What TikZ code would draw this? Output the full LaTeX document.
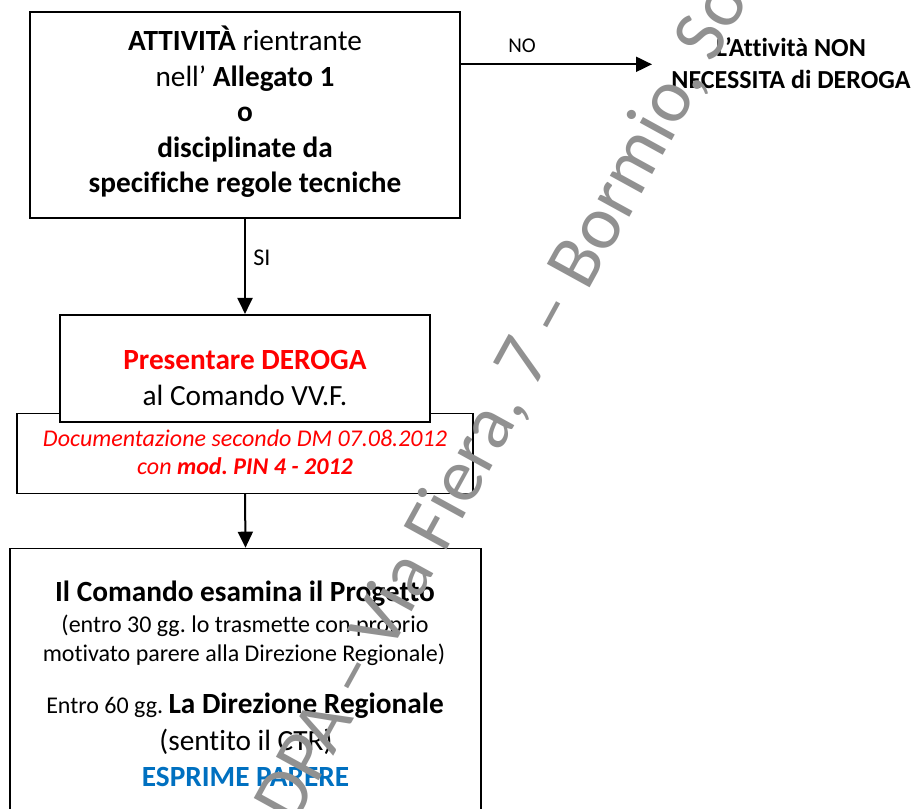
\documentclass[tikz,border=0pt]{standalone}
\usepackage{fontspec}
\setmainfont[Ligatures=NoCommon]{Carlito}
\usetikzlibrary{arrows.meta}
\definecolor{wordred}{RGB}{255,0,0}
\definecolor{wordblue}{RGB}{0,112,192}
\definecolor{wmgray}{RGB}{145,145,145}
\newcommand\fbig{\fontsize{29.3}{35}\selectfont}
\newcommand\fmid{\fontsize{24}{29}\selectfont}
\newcommand\fout{\fontsize{26}{32}\selectfont}
\newcommand\flab{\fontsize{21}{25}\selectfont}
\newcommand\fwm{\fontsize{76}{92}\selectfont}
\frenchspacing
\begin{document}
\begin{tikzpicture}[x=1pt,y=-1pt,
  box/.style={draw=black, fill=white, inner sep=0pt},
  thickbox/.style={box, line width=2pt},
  thinbox/.style={box, line width=1.3pt},
  txt/.style={anchor=base, inner sep=0pt, outer sep=0pt},
  wmstyle/.style={txt, anchor=base west, rotate=61.2},
  arr/.style={line width=2pt, -{Triangle[length=16pt,width=15pt]}}]
\useasboundingbox (0,0) rectangle (919,809);
\clip (0,0) rectangle (919,809);
\fill[white] (0,0) rectangle (919,809);

% box 1
\node[thickbox, minimum width=430pt, minimum height=206pt] (b1) at (245,115) {};
\node[txt] (t1a) at (245,50.5) {\fbig\textbf{ATTIVITÀ} rientrante};
\node[txt] (t1b) at (245,86) {\fbig nell’ \textbf{Allegato 1}};
\node[txt] (t1c) at (245,121.5) {\fbig\bfseries o};
\node[txt] (t1d) at (245,157) {\fbig\bfseries disciplinate da};
\node[txt] (t1e) at (245,192.5) {\fbig\bfseries specifiche regole tecniche};

% NO branch
\coordinate (noend) at (652,64.3);
\draw[arr] (b1.east |- noend) -- (noend);
\node[txt] (lno) at (522,52.3) {\flab NO};
\node[txt] (o1) at (791,56.5) {\fout\bfseries L’Attività NON};
\node[txt] (o2) at (791,88.3) {\fout\bfseries NECESSITA di DEROGA};

% box 3 (under box 2)
\node[thinbox, minimum width=456pt, minimum height=80pt] (b3) at (245,453.3) {};
% box 2
\node[thickbox, minimum width=370pt, minimum height=106.7pt] (b2) at (245,368.3) {};
\node[txt] (t2a) at (245,369) {\fbig\bfseries\color{wordred}Presentare DEROGA};
\node[txt] (t2b) at (245,405) {\fbig al Comando VV.F.};
\node[txt] (t3a) at (245,446) {\fmid\itshape\color{wordred}Documentazione secondo DM 07.08.2012};
\node[txt] (t3b) at (245,474.3) {\fmid\itshape\color{wordred}con \textbf{mod. PIN 4 - 2012}};

% SI arrow
\draw[arr] (b1.south) -- (b2.north);
\node[txt, anchor=base west] (lsi) at (253.3,265) {\fontsize{24}{29}\selectfont SI};

% box 4
\node[thinbox, minimum width=471pt, minimum height=311.7pt] (b4) at (245.5,704.2) {};
\draw[arr] (b3.south) -- (b4.north);
\node[txt] (t4a) at (245,601.7) {\fbig\bfseries Il Comando esamina il Progetto};
\node[txt] (t4b) at (245,632.7) {\fmid (entro 30 gg. lo trasmette con proprio};
\node[txt] (t4c) at (244,661.7) {\fmid motivato parere alla Direzione Regionale)};
\node[txt] (t4d) at (245,713) {\fmid Entro 60 gg. \fbig\bfseries La Direzione Regionale};
\node[txt] (t4e) at (246,750) {\fbig (sentito il CTR)};
\node[txt] (t4f) at (245.5,786.7) {\fbig\bfseries\color{wordblue}ESPRIME PARERE};

% watermark
\node[wmstyle, text=wmgray] (wm) at (294.4,826.6) {\fwm DPA – Via Fiera, 7 – Bormio, So};
\end{tikzpicture}
\end{document}
